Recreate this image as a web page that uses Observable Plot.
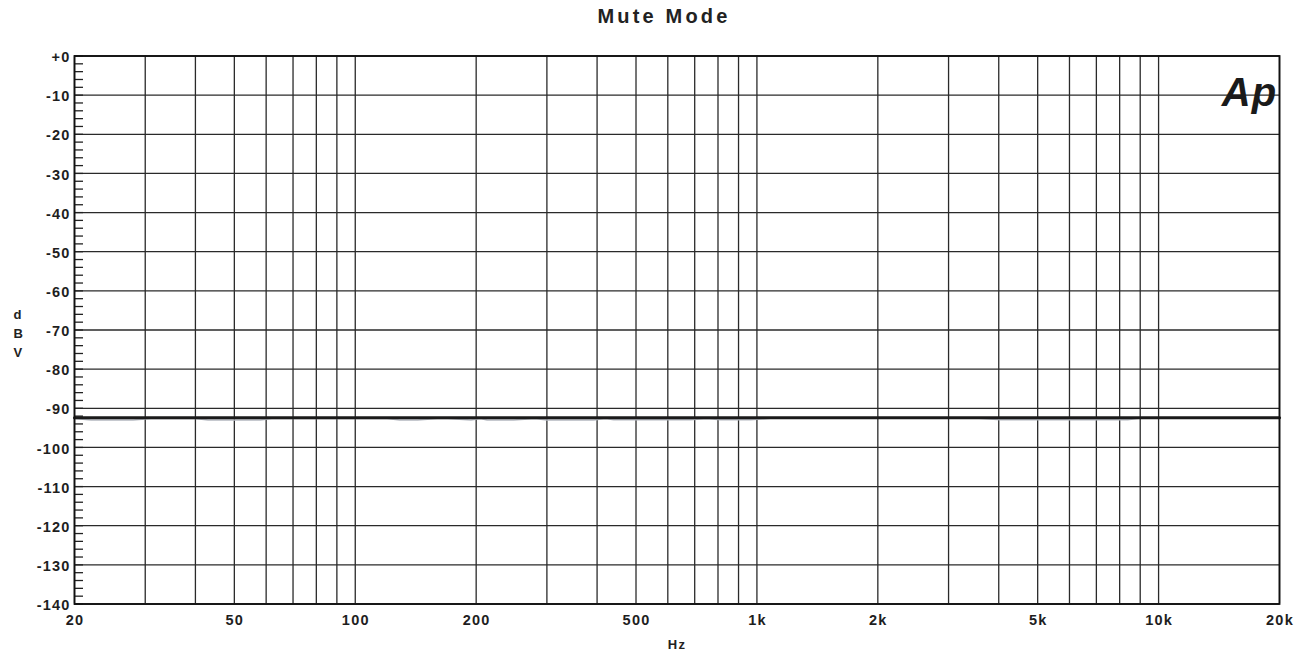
<!DOCTYPE html>
<html>
<head>
<meta charset="utf-8">
<script src="https://cdn.jsdelivr.net/npm/d3@7"></script>
<script src="https://cdn.jsdelivr.net/npm/@observablehq/plot@0.6"></script>
<style>
  html, body { margin: 0; padding: 0; background: #fff; }
  #title { height: 40px; line-height: 32px; text-align: center; font-family: "Liberation Sans", Arial, sans-serif; font-weight: bold; font-size: 20px; letter-spacing: 3.2px; color: #222; padding-left: 27px; }
  #chart svg { display: block; }
</style>
</head>
<body>
<div id="title">Mute Mode</div>
<div id="chart"></div>
<script>
const dbTicks = [0, -10, -20, -30, -40, -50, -60, -70, -80, -90, -100, -110, -120, -130, -140];
const dbTickLabels = ["+0", "-10", "-20", "-30", "-40", "-50", "-60", "-70", "-80", "-90", "-100", "-110", "-120", "-130", "-140"];
const dbMinorTicks = d3.range(-140, 0.1, 2);
const freqGrid = [20, 30, 40, 50, 60, 70, 80, 90, 100, 200, 300, 400, 500, 600, 700, 800, 900, 1000, 2000, 3000, 4000, 5000, 6000, 7000, 8000, 9000, 10000, 20000];
const freqTicks = [20, 50, 100, 200, 500, 1000, 2000, 5000, 10000, 20000];
const freqTickLabels = ["20", "50", "100", "200", "500", "1k", "2k", "5k", "10k", "20k"];

// Channel A (black) and channel B (grey), dBV
const chAFreq = [20, 30, 50, 100, 200, 500, 1000, 2000, 5000, 10000, 15000, 20000];
const chADb   = [-92.4, -92.4, -92.4, -92.4, -92.4, -92.4, -92.4, -92.4, -92.4, -92.4, -92.4, -92.4];
const chBFreq = [20, 22, 28, 31, 40, 43, 58, 62, 120, 129, 143, 160, 170, 194, 205, 213, 248, 280, 300, 392, 420, 440, 684, 750, 811, 964, 1100, 3500, 4040, 8380, 9000, 20000];
const chBDb   = [-92.6, -93.0, -93.0, -92.6, -92.6, -93.0, -93.0, -92.6, -92.6, -93.0, -93.0, -92.6, -92.6, -93.0, -92.6, -93.0, -93.0, -92.6, -93.0, -93.0, -92.6, -92.9, -92.9, -92.6, -92.9, -92.9, -92.5, -92.5, -92.9, -92.9, -92.5, -92.5];

const chA = chAFreq.map((f, i) => ({f, db: chADb[i]}));
const chB = chBFreq.map((f, i) => ({f, db: chBDb[i]}));
const dbLabelMap = new Map(dbTicks.map((d, i) => [d, dbTickLabels[i]]));
const fLabelMap = new Map(freqTicks.map((d, i) => [d, freqTickLabels[i]]));

const font = "Liberation Sans, Arial, sans-serif";

const plot = Plot.plot({
  width: 1301,
  height: 620,
  marginLeft: 74,
  marginRight: 22,
  marginTop: 15.5,
  marginBottom: 56.5,
  style: { fontFamily: font, fontWeight: "bold", fontSize: "14px", color: "#222", background: "#fff", letterSpacing: "1.2px" },
  x: { type: "log", domain: [20, 20000], axis: null },
  y: { domain: [-140, 0] },
  marks: [
    Plot.ruleY(dbTicks, { stroke: "#2a2a2a", strokeWidth: 1.3 }),
    Plot.ruleX(freqGrid, { stroke: "#2a2a2a", strokeWidth: 1.3 }),
    Plot.axisY({ ticks: dbMinorTicks, tickSize: -9, tickFormat: () => "", label: null, stroke: "#222", strokeWidth: 1.3, strokeOpacity: 1 }),
    Plot.axisY({ ticks: dbTicks, tickSize: 0, tickPadding: 4, tickFormat: d => dbLabelMap.get(d), label: null, dy: 1.5, fontSize: 14.5, fontWeight: "bold", fill: "#1e1e1e" }),
    Plot.text(freqTicks, { x: d => d, frameAnchor: "bottom", text: d => fLabelMap.get(d), dy: 20.5, dx: 0.5, fill: "#1e1e1e", fontSize: 14.5, fontWeight: "bold" }),
    Plot.line(chB, { x: "f", y: "db", stroke: "#b4b8c0", strokeWidth: 1.6 }),
    Plot.line(chA, { x: "f", y: "db", stroke: "#1a1a1a", strokeWidth: 3 }),
    Plot.frame({ stroke: "#111", strokeWidth: 1.8 }),
    Plot.text(["Hz"], { frameAnchor: "bottom", dy: 45, text: d => d, fill: "#222", fontSize: 13, fontWeight: "bold" }),
    Plot.text(["d\nB\nV"], { frameAnchor: "left", dx: -61, dy: 2, lineHeight: 1.45, text: d => d, fill: "#222", fontSize: 13, fontWeight: "bold" }),
    Plot.text(["Ap"], { frameAnchor: "top-right", dx: -2, dy: 22, text: d => d, fill: "#1a1a1a", fontSize: 40, fontWeight: 900, fontStyle: "italic", textAnchor: "end", style: "letter-spacing:-3px" })
  ]
});

document.getElementById("chart").appendChild(plot);
</script>
</body>
</html>
